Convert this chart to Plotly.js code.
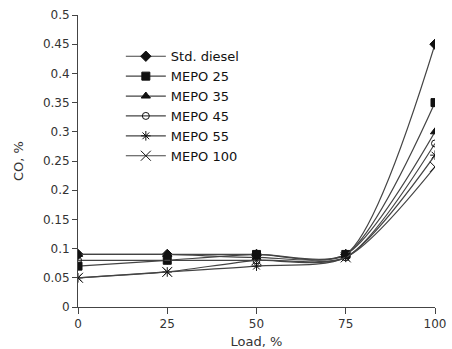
<!DOCTYPE html>
<html><head><meta charset="utf-8">
<script src="https://cdn.plot.ly/plotly-3.0.1.min.js"></script>
<style>html,body{margin:0;padding:0;background:#fff}</style>
</head><body>
<div id="chart" style="width:452px;height:349px"></div>
<script>
var load = [0, 25, 50, 75, 100];
var seriesNames = ["Std. diesel", "MEPO 25", "MEPO 35", "MEPO 45", "MEPO 55", "MEPO 100"];
var stdDiesel = [0.09, 0.09, 0.09, 0.09, 0.45];
var mepo25 = [0.07, 0.08, 0.09, 0.09, 0.35];
var mepo35 = [0.09, 0.09, 0.085, 0.09, 0.30];
var mepo45 = [0.08, 0.08, 0.08, 0.085, 0.28];
var mepo55 = [0.05, 0.06, 0.07, 0.085, 0.26];
var mepo100 = [0.05, 0.06, 0.08, 0.085, 0.24];
var yTicks = [0, 0.05, 0.1, 0.15, 0.2, 0.25, 0.3, 0.35, 0.4, 0.45, 0.5];
var yTickText = ["0", "0.05", "0.1", "0.15", "0.2", "0.25", "0.3", "0.35", "0.4", "0.45", "0.5"];
var xTicks = [0, 25, 50, 75, 100];

var allY = [stdDiesel, mepo25, mepo35, mepo45, mepo55, mepo100];
var symbols = ["diamond", "square", "triangle-up", "circle-open", "asterisk-open", "x-thin-open"];
var sizes = [8, 8, 8, 7, 8, 10];
var traces = allY.map(function (y, i) {
  return {
    x: load, y: y, name: seriesNames[i], type: "scatter", mode: "lines+markers",
    line: {color: "#444", width: 1.2, shape: "spline", smoothing: 0.75},
    marker: {symbol: symbols[i], size: sizes[i], color: "#111", line: {color: "#111", width: 1}}
  };
});

var fam = "DejaVu Sans, Liberation Sans, Arial, sans-serif";
var layout = {
  width: 452, height: 349,
  margin: {l: 78, r: 17, t: 15, b: 42},
  paper_bgcolor: "#fff", plot_bgcolor: "#fff",
  font: {family: fam, size: 12, color: "#222"},
  showlegend: true,
  legend: {x: 0.12, y: 0.91, xanchor: "left", yanchor: "top", bgcolor: "rgba(0,0,0,0)",
           font: {family: fam, size: 13, color: "#111"}, tracegroupgap: 0, itemwidth: 40},
  xaxis: {range: [0, 100], tickvals: xTicks, ticks: "outside", ticklen: 6, tickcolor: "#444",
          showline: true, linecolor: "#444", linewidth: 1, showgrid: false, zeroline: false,
          tickfont: {size: 12, color: "#333"},
          title: {text: "Load, %", font: {size: 13, color: "#333"}, standoff: 7}},
  yaxis: {range: [0, 0.5], tickvals: yTicks, ticktext: yTickText, ticks: "outside", ticklen: 5, tickcolor: "#444",
          showline: true, linecolor: "#444", linewidth: 1, showgrid: false, zeroline: false,
          tickfont: {size: 12, color: "#333"},
          title: {text: "CO, %", font: {size: 13, color: "#333"}, standoff: 16}}
};
Plotly.newPlot("chart", traces, layout, {displayModeBar: false, staticPlot: true});
</script>
</body></html>
